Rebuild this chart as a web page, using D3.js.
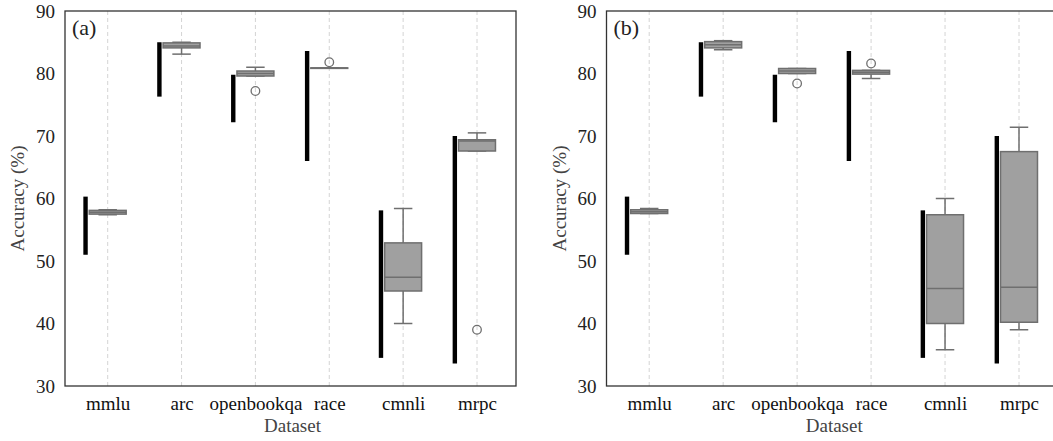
<!DOCTYPE html>
<html>
<head>
<meta charset="utf-8">
<style>
  body { margin: 0; background: #fff; }
  svg, svg text { font-family: "Liberation Serif", "Times New Roman", "DejaVu Serif", serif; }
</style>
</head>
<body>
<div id="chart"></div>
<script src="https://cdn.jsdelivr.net/npm/d3@7"></script>
<script>
// categories on the x axis
var categories = ["mmlu", "arc", "openbookqa", "race", "cmnli", "mrpc"];
var yTicks = [30, 40, 50, 60, 70, 80, 90];

// black range bars (same in both panels)
var rangeLow  = [51.0, 76.3, 72.2, 66.0, 34.5, 33.6];
var rangeHigh = [60.3, 85.0, 79.8, 83.6, 58.1, 70.0];

// box stats: [whisker low, q1, median, q3, whisker high]
var boxesA = [
  [57.4, 57.5, 57.8, 58.1, 58.2],
  [83.1, 84.1, 84.4, 84.9, 85.0],
  [79.6, 79.6, 80.0, 80.4, 81.0],
  [80.9, 80.9, 80.9, 80.9, 80.9],
  [40.0, 45.2, 47.4, 52.9, 58.4],
  [67.6, 67.6, 69.2, 69.4, 70.5]
];
var outliersA = [[], [], [77.2], [81.8], [], [39.0]];

var boxesB = [
  [57.6, 57.6, 57.9, 58.2, 58.4],
  [83.8, 84.1, 84.6, 85.1, 85.25],
  [80.0, 80.0, 80.4, 80.8, 80.8],
  [79.2, 79.9, 80.2, 80.5, 80.5],
  [35.8, 40.0, 45.6, 57.4, 60.0],
  [39.0, 40.2, 45.8, 67.5, 71.4]
];
var outliersB = [[], [], [78.4], [81.6], [], []];

var FONT = "'Liberation Serif', 'Times New Roman', 'DejaVu Serif', serif";
var width = 1053, height = 441;
var svg = d3.select("#chart").append("svg")
    .attr("width", width)
    .attr("height", height)
    .attr("font-family", FONT);

function drawPanel(left, right, label, boxes, outliers) {
    var top = 11, bottom = 386;
    var g = svg.append("g");

    var y = d3.scaleLinear().domain([30, 90]).range([bottom, top]);
    var x = d3.scalePoint().domain(categories).range([left + 42.7, right - 39]);
    var step = x.step();
    var boxW = step * 0.5;

    // grid
    g.selectAll(".grid").data(categories).enter().append("line")
        .attr("x1", function (d) { return x(d); })
        .attr("x2", function (d) { return x(d); })
        .attr("y1", top).attr("y2", bottom)
        .attr("stroke", "#d4d4d4")
        .attr("stroke-width", 1)
        .attr("stroke-dasharray", "4,3");

    // black range bars
    g.selectAll(".rng").data(categories).enter().append("rect")
        .attr("x", function (d) { return x(d) - step * 0.3 - 2.2; })
        .attr("width", 4.4)
        .attr("y", function (d, i) { return y(rangeHigh[i]); })
        .attr("height", function (d, i) { return y(rangeLow[i]) - y(rangeHigh[i]); })
        .attr("fill", "#000");

    var col = "#6f6f6f";
    categories.forEach(function (c, i) {
        var b = boxes[i], cx = x(c);
        // whiskers
        g.append("line").attr("x1", cx).attr("x2", cx)
            .attr("y1", y(b[0])).attr("y2", y(b[1]))
            .attr("stroke", col).attr("stroke-width", 1.5);
        g.append("line").attr("x1", cx).attr("x2", cx)
            .attr("y1", y(b[3])).attr("y2", y(b[4]))
            .attr("stroke", col).attr("stroke-width", 1.5);
        [b[0], b[4]].forEach(function (v) {
            g.append("line").attr("x1", cx - boxW / 4).attr("x2", cx + boxW / 4)
                .attr("y1", y(v)).attr("y2", y(v))
                .attr("stroke", col).attr("stroke-width", 1.5);
        });
        // box
        g.append("rect")
            .attr("x", cx - boxW / 2).attr("width", boxW)
            .attr("y", y(b[3])).attr("height", Math.max(y(b[1]) - y(b[3]), 0.5))
            .attr("fill", "#a0a0a0")
            .attr("stroke", col).attr("stroke-width", 1.5);
        // median
        g.append("line").attr("x1", cx - boxW / 2).attr("x2", cx + boxW / 2)
            .attr("y1", y(b[2])).attr("y2", y(b[2]))
            .attr("stroke", col).attr("stroke-width", 1.5);
        // outliers
        outliers[i].forEach(function (v) {
            g.append("circle").attr("cx", cx).attr("cy", y(v)).attr("r", 4.3)
                .attr("fill", "none").attr("stroke", col).attr("stroke-width", 1.3);
        });
    });

    // frame
    g.append("rect")
        .attr("x", left).attr("y", top)
        .attr("width", right - left).attr("height", bottom - top)
        .attr("fill", "none").attr("stroke", "#333").attr("stroke-width", 1.3);

    // y axis
    var yAxis = d3.axisLeft(y).tickValues(yTicks).tickSize(0).tickPadding(10);
    var ya = g.append("g").attr("transform", "translate(" + left + ",0)").call(yAxis)
        .attr("font-family", FONT);
    ya.select(".domain").remove();
    ya.selectAll("text").attr("font-size", 19).attr("fill", "#222");

    // x axis
    var xAxis = d3.axisBottom(x).tickSize(0).tickPadding(11);
    var xa = g.append("g").attr("transform", "translate(0," + bottom + ")").call(xAxis)
        .attr("font-family", FONT);
    xa.select(".domain").remove();
    xa.selectAll("text").attr("font-size", 19).attr("fill", "#111");

    g.append("text")
        .attr("x", (left + right) / 2 + 2)
        .attr("y", 432)
        .attr("text-anchor", "middle")
        .attr("font-size", 19)
        .attr("fill", "#444")
        .text("Dataset");

    g.append("text")
        .attr("transform", "translate(" + (left - 41) + "," + ((top + bottom) / 2) + ") rotate(-90)")
        .attr("text-anchor", "middle")
        .attr("font-size", 19)
        .attr("fill", "#444")
        .text("Accuracy (%)");

    g.append("text")
        .attr("x", left + 7)
        .attr("y", 35)
        .attr("font-size", 22)
        .attr("fill", "#222")
        .text(label);
}

drawPanel(65, 516, "(a)", boxesA, outliersA);
drawPanel(606.5, 1058, "(b)", boxesB, outliersB);
</script>
</body>
</html>
